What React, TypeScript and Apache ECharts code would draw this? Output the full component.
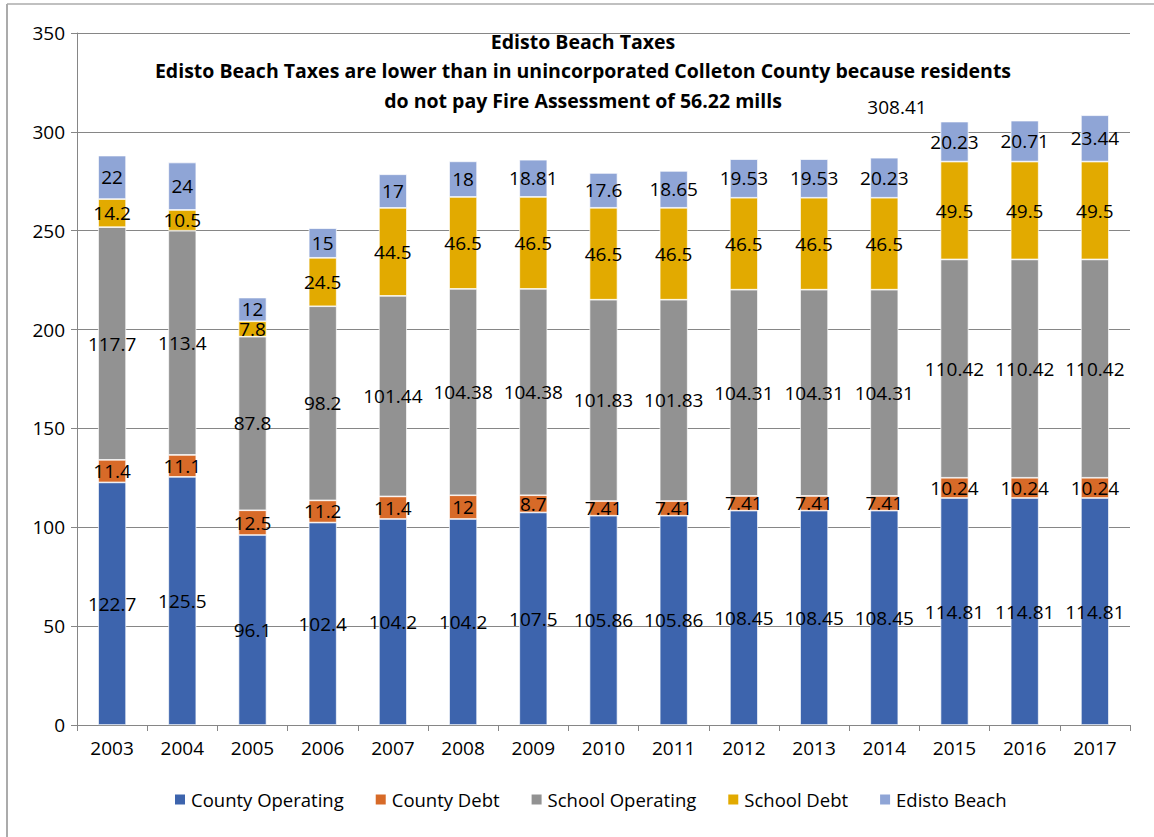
import React, { useEffect, useRef } from "react";
import * as echarts from "echarts";

const years = ["2003","2004","2005","2006","2007","2008","2009","2010","2011","2012","2013","2014","2015","2016","2017"];
const countyOperating = [122.7,125.5,96.1,102.4,104.2,104.2,107.5,105.86,105.86,108.45,108.45,108.45,114.81,114.81,114.81];
const countyDebt = [11.4,11.1,12.5,11.2,11.4,12,8.7,7.41,7.41,7.41,7.41,7.41,10.24,10.24,10.24];
const schoolOperating = [117.7,113.4,87.8,98.2,101.44,104.38,104.38,101.83,101.83,104.31,104.31,104.31,110.42,110.42,110.42];
const schoolDebt = [14.2,10.5,7.8,24.5,44.5,46.5,46.5,46.5,46.5,46.5,46.5,46.5,49.5,49.5,49.5];
const edistoBeach = [22,24,12,15,17,18,18.81,17.6,18.65,19.53,19.53,20.23,20.23,20.71,23.44];
const seriesNames = ["County Operating","County Debt","School Operating","School Debt","Edisto Beach"];
const colors = ["#3D64AD","#D76A28","#929292","#E2AA00","#8FA5D6"];
const totalLabel = "308.41";
const titleLines = [
  "Edisto Beach Taxes",
  "Edisto Beach Taxes are lower than in unincorporated Colleton County because residents",
  "do not pay Fire Assessment of 56.22 mills",
];

const FONT = "'Open Sans', sans-serif";

export default function App() {
  const ref = useRef<HTMLDivElement>(null);
  useEffect(() => {
    if (!ref.current) return;
    const chart = echarts.init(ref.current, undefined, { renderer: "svg" });
    const data = [countyOperating, countyDebt, schoolOperating, schoolDebt, edistoBeach];
    chart.setOption({
      animation: false,
      color: colors,
      textStyle: { fontFamily: FONT },
      grid: { left: 77, right: 24, top: 33, bottom: 112 },
      legend: {
        bottom: 23,
        left: 168,
        itemWidth: 12,
        itemHeight: 12,
        itemGap: 30,
        icon: "rect",
        textStyle: { fontSize: 18.5, color: "#000", fontFamily: FONT },
        data: seriesNames,
      },
      graphic: [
        { type: "line", shape: { x1: 7, y1: 4, x2: 1154, y2: 4 }, style: { stroke: "#ababab", lineWidth: 1.5 } },
        { type: "line", shape: { x1: 7, y1: 4, x2: 7, y2: 837 }, style: { stroke: "#ababab", lineWidth: 2 } },
        ...titleLines.map((t, i) => ({
          type: "text",
          x: 583,
          y: 41 + i * 29.5,
          style: {
            text: t,
            fill: "#000",
            font: `bold 19.5px ${FONT}`,
            textAlign: "center",
            textVerticalAlign: "middle",
          },
        })),
        {
          type: "text",
          x: 897,
          y: 107,
          style: {
            text: totalLabel,
            fill: "#000",
            font: `19px ${FONT}`,
            textAlign: "center",
            textVerticalAlign: "middle",
          },
        },
      ],
      xAxis: {
        type: "category",
        data: years,
        axisLine: { lineStyle: { color: "#868686" } },
        axisTick: { show: true, length: 6, lineStyle: { color: "#868686" } },
        axisLabel: { color: "#000", fontSize: 19, margin: 13, fontFamily: FONT },
      },
      yAxis: {
        type: "value",
        min: 0,
        max: 350,
        interval: 50,
        axisLine: { show: true, lineStyle: { color: "#868686" } },
        axisTick: { show: true, length: 6, lineStyle: { color: "#868686" } },
        axisLabel: { color: "#000", fontSize: 19, margin: 12, fontFamily: FONT },
        splitLine: { lineStyle: { color: "#868686" } },
      },
      series: seriesNames.map((name, i) => ({
        name,
        type: "bar",
        stack: "total",
        barWidth: 28,
        data: data[i],
        itemStyle: { borderColor: "#ffffff", borderWidth: 0.7 },
        label: {
          show: true,
          position: "inside",
          color: "#000",
          fontSize: 19,
          fontFamily: FONT,
        },
      })),
    });
    return () => chart.dispose();
  }, []);
  return (
    <div
      ref={ref}
      style={{ position: "absolute", left: 0, top: 0, width: 1154, height: 837, background: "#fff" }}
    />
  );
}
